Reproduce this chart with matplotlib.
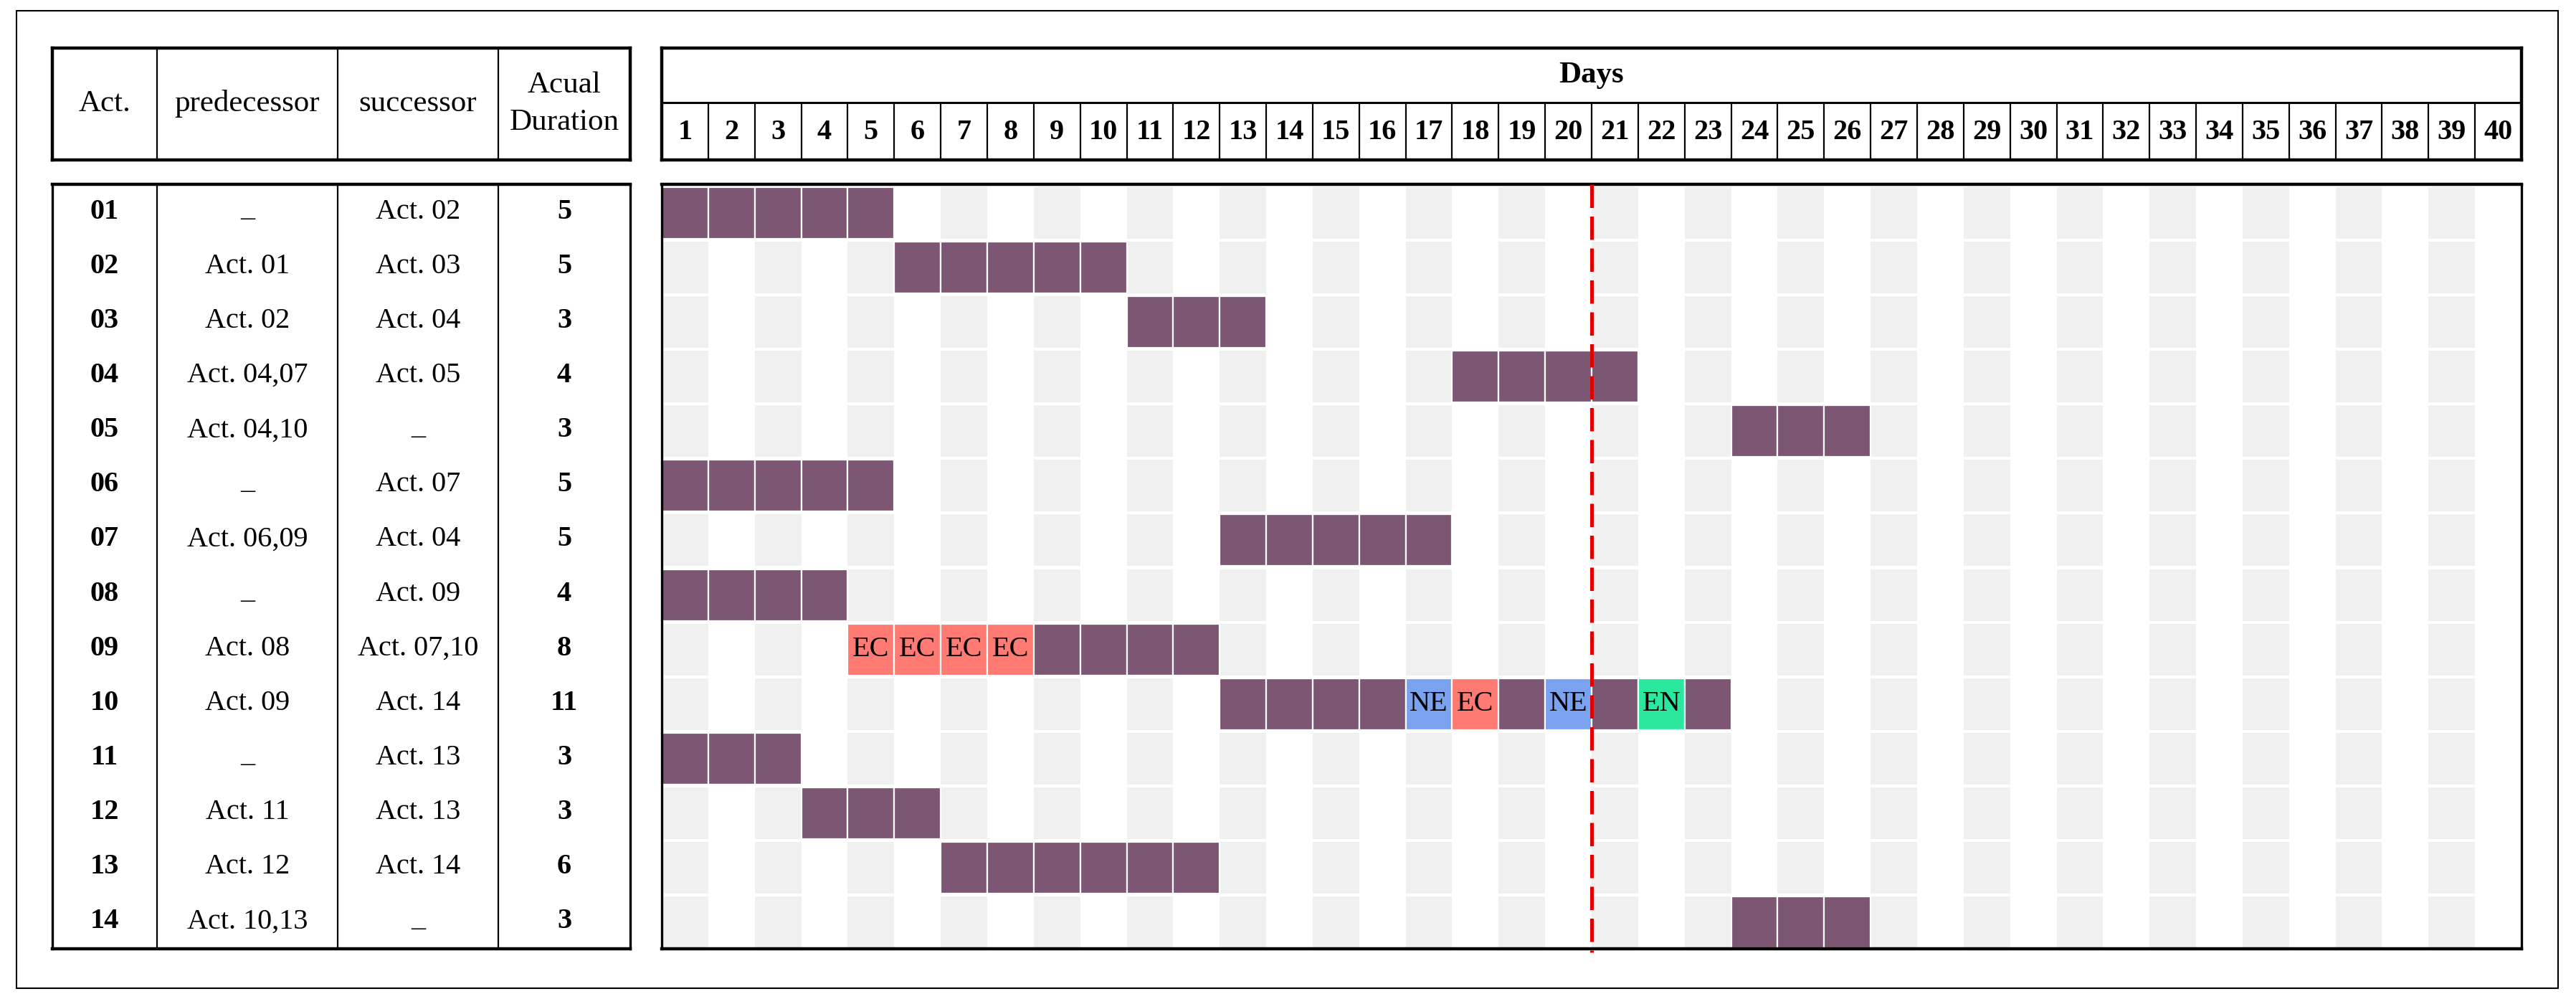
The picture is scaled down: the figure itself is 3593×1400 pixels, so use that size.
import matplotlib
matplotlib.use("Agg")
import matplotlib.pyplot as plt
from matplotlib.patches import Rectangle

plt.rcParams['font.family'] = ['Liberation Serif', 'DejaVu Serif']

# ---------------- data ----------------
activities = ["01", "02", "03", "04", "05", "06", "07", "08", "09", "10", "11", "12", "13", "14"]
predecessors = ["–", "Act. 01", "Act. 02", "Act. 04,07", "Act. 04,10", "–", "Act. 06,09",
                "–", "Act. 08", "Act. 09", "–", "Act. 11", "Act. 12", "Act. 10,13"]
successors = ["Act. 02", "Act. 03", "Act. 04", "Act. 05", "–", "Act. 07", "Act. 04",
              "Act. 09", "Act. 07,10", "Act. 14", "Act. 13", "Act. 13", "Act. 14", "–"]
durations = [5, 5, 3, 4, 3, 5, 5, 4, 8, 11, 3, 3, 6, 3]
start_days = [1, 6, 11, 18, 24, 1, 13, 1, 5, 13, 1, 4, 7, 24]
cell_labels = {
    "09": {5: "EC", 6: "EC", 7: "EC", 8: "EC"},
    "10": {17: "NE", 18: "EC", 20: "NE", 22: "EN"},
}
days = list(range(1, 41))
status_day = 20
header_cols = ["Act.", "predecessor", "successor", "Acual\nDuration"]

# ---------------- style ----------------
W, H, DPI = 3593, 1400, 100
PURPLE = "#7d5673"
GREY = "#f0f0f0"
LABEL_COLORS = {"EC": "#ff7a73", "NE": "#7aa2ee", "EN": "#2ce89f"}
col_edges = [0, 146, 398, 622, 806]
FS = 29
FS_HEAD = 31
THICK, THIN = 3.2, 1.6

fig = plt.figure(figsize=(W / DPI, H / DPI), dpi=DPI)


def fa(x0, y0, x1, y1):
    return [x0 / W, 1 - y1 / H, (x1 - x0) / W, (y1 - y0) / H]


def box_spines(ax, top=THICK, bottom=THICK, side=THICK):
    for s in ["top", "bottom"]:
        ax.spines[s].set_linewidth(top if s == "top" else bottom)
    for s in ["left", "right"]:
        ax.spines[s].set_linewidth(side)
    ax.set_xticks([])
    ax.set_yticks([])


# outer frame
fig.patches.append(Rectangle((23 / W, 1 - 1378 / H), (3568 - 23) / W, (1378 - 15) / H,
                             transform=fig.transFigure, fill=False, lw=1.5, ec="black"))

# ---------- table header ----------
axth = fig.add_axes(fa(73, 67, 879, 223))
axth.set_xlim(col_edges[0], col_edges[-1])
axth.set_ylim(1, 0)
box_spines(axth)
for e in col_edges[1:-1]:
    axth.axvline(e, color="black", lw=THIN)
for i, name in enumerate(header_cols):
    cx = (col_edges[i] + col_edges[i + 1]) / 2
    axth.text(cx, 0.5, name, ha="center", va="center", fontsize=FS_HEAD, linespacing=1.45)

# ---------- table body ----------
axtb = fig.add_axes(fa(73, 257, 879, 1323))
axtb.set_xlim(col_edges[0], col_edges[-1])
axtb.set_ylim(len(activities), 0)
box_spines(axtb, side=2.4)
for e in col_edges[1:-1]:
    axtb.axvline(e, color="black", lw=THIN)
centers = [(col_edges[i] + col_edges[i + 1]) / 2 for i in range(4)]
for r, (a, p, s, d) in enumerate(zip(activities, predecessors, successors, durations)):
    y = r + 0.5
    axtb.text(centers[0], y, a, ha="center", va="center", fontsize=FS, fontweight="bold")
    for cx, t in ((centers[1], p), (centers[2], s)):
        if t == "–":
            axtb.text(cx, y + 0.12, t, ha="center", va="center", fontsize=FS)
        else:
            axtb.text(cx, y, t, ha="center", va="center", fontsize=FS)
    axtb.text(centers[3], y, str(d), ha="center", va="center", fontsize=FS, fontweight="bold")

# ---------- chart header ----------
axch = fig.add_axes(fa(923, 67, 3517, 223))
axch.set_xlim(0, len(days))
axch.set_ylim(2, 0)
box_spines(axch)
axch.axhline(0.975, color="black", lw=2.2)
for d in days[:-1]:
    axch.plot([d, d], [1, 2], color="black", lw=THIN)
axch.text(len(days) / 2, 0.49, "Days", ha="center", va="center", fontsize=FS + 2, fontweight="bold")
for d in days:
    axch.text(d - 0.5, 1.5, str(d), ha="center", va="center", fontsize=FS, fontweight="bold")

# ---------- chart body ----------
ax = fig.add_axes(fa(923, 257, 3517, 1323))
ax.set_xlim(0, len(days))
ax.set_ylim(len(activities), 0)
box_spines(ax, side=2.4)
rows = [r + 0.52 for r in range(len(activities))]
BH = 0.945
odd_lefts = [d - 1 for d in days if d % 2 == 1]
for y in rows:
    ax.barh([y] * len(odd_lefts), [1] * len(odd_lefts), left=odd_lefts, height=BH,
            color=GREY, linewidth=0, zorder=1)
for a, y, s, dur in zip(activities, rows, start_days, durations):
    labs = cell_labels.get(a, {})
    for d in range(s, s + dur):
        lab = labs.get(d)
        col = LABEL_COLORS[lab] if lab else PURPLE
        ax.barh(y, 1, left=d - 1, height=BH, color=col, edgecolor="white", linewidth=1.6, zorder=2)
        if lab:
            ax.text(d - 0.5, y, lab, ha="center", va="center", fontsize=FS, zorder=3)
ax.plot([status_day, status_day], [0, len(activities) + 0.06], color="#e00000", lw=3.6,
        linestyle=(0, (6.5, 2.4)), zorder=4, clip_on=False)

fig.savefig("out.png", dpi=DPI)
